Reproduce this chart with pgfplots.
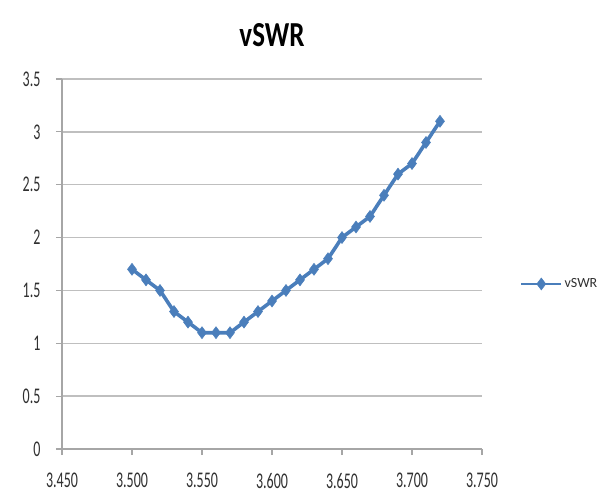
\documentclass[border=0pt]{standalone}
\usepackage{pgfplots}
\pgfplotsset{compat=1.18}
\usepackage{fontspec}
\setmainfont{Carlito}
\definecolor{serblue}{HTML}{4A7EBB}
\definecolor{gridgray}{HTML}{BFBFBF}
\definecolor{axgray}{HTML}{A6A6A6}
\definecolor{txt}{HTML}{303030}
\begin{document}
\begin{tikzpicture}
\path[use as bounding box] (-62pt,-54pt) rectangle (542pt,449pt);
\begin{axis}[
  at={(0,0)}, anchor=south west,
  scale only axis, width=420pt, height=370pt,
  xmin=3.45, xmax=3.75, ymin=0, ymax=3.5,
  xtick={3.45,3.5,3.55,3.6,3.65,3.7,3.75},
  ytick={0,0.5,1,1.5,2,2.5,3,3.5},
  yticklabels={0,0.5,1,1.5,2,2.5,3,3.5},
  xticklabel style={/pgf/number format/fixed, /pgf/number format/fixed zerofill, /pgf/number format/precision=3},
  /pgf/number format/assume math mode=true,
  axis x line*=bottom, axis y line*=left,
  axis line style={axgray, line width=1.2pt},
  tick align=outside,
  major tick length=6pt,
  tick style={axgray, line width=1.2pt},
  ymajorgrids, grid style={gridgray, line width=1.5pt},
  tick label style={font=\fontsize{14}{16}\selectfont, text=txt, yscale=1.6},
  xticklabel style={yshift=-8pt},
  yticklabel style={xshift=-12pt},
  title={vSWR},
  title style={at={(0.5,1)}, anchor=center, yshift=38pt, font=\fontsize{27}{30}\selectfont\bfseries, yscale=1.3},
  legend style={at={(1.09,0.446)}, anchor=west, draw=none, fill=none, font=\fontsize{14}{16}\selectfont, text=txt, inner sep=0pt},
  legend cell align=left,
  legend image code/.code={\draw[#1, line width=2.6pt] (0pt,0pt) -- (40pt,0pt); \draw[#1, mark repeat=1, mark phase=1] plot coordinates {(20pt,0pt)};},
  clip=false,
]
\addplot[color=serblue, line width=3.6pt, mark=diamond*, mark size=6pt, mark options={fill=serblue, draw=serblue, line width=0.5pt}] coordinates {
(3.50,1.7) (3.51,1.6) (3.52,1.5) (3.53,1.3) (3.54,1.2) (3.55,1.1) (3.56,1.1) (3.57,1.1)
(3.58,1.2) (3.59,1.3) (3.60,1.4) (3.61,1.5) (3.62,1.6) (3.63,1.7) (3.64,1.8) (3.65,2.0)
(3.66,2.1) (3.67,2.2) (3.68,2.4) (3.69,2.6) (3.70,2.7) (3.71,2.9) (3.72,3.1)
};
\addlegendentry{vSWR}
\end{axis}
\end{tikzpicture}
\end{document}
